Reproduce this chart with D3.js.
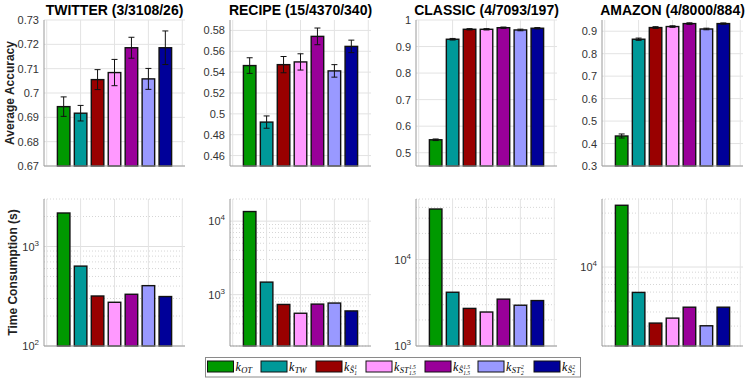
<!DOCTYPE html>
<html><head><meta charset="utf-8">
<script src="https://cdn.jsdelivr.net/npm/d3@7"></script>
<style>body{margin:0;background:#fff} svg{display:block}</style>
</head><body><svg id="c" width="748" height="381"></svg>
<script>
// ---------------- data ----------------
const methods = ["k_OT","k_TW","k_S1","k_ST1.5","k_S1.5","k_ST2","k_S2"];
const colors = ["#009900","#009999","#990000","#ff99ff","#990099","#9999ff","#000099"];
const datasets = ["TWITTER (3/3108/26)","RECIPE (15/4370/340)","CLASSIC (4/7093/197)","AMAZON (4/8000/884)"];

const accTwitter = [0.6944,0.6917,0.7055,0.7084,0.7186,0.7058,0.7186];
const errTwitter = [0.0040,0.0032,0.0041,0.0054,0.0043,0.0043,0.0069];
const accRecipe  = [0.5463,0.4921,0.5472,0.5498,0.5743,0.5412,0.5647];
const errRecipe  = [0.0075,0.0059,0.0078,0.0078,0.0080,0.0060,0.0060];
const accClassic = [0.5488,0.9275,0.9650,0.9650,0.9710,0.9625,0.9690];
const errClassic = [0.0030,0.0030,0.0025,0.0025,0.0025,0.0030,0.0025];
const accAmazon  = [0.4336,0.8644,0.9163,0.9208,0.9340,0.9100,0.9340];
const errAmazon  = [0.0090,0.0050,0.0040,0.0035,0.0035,0.0035,0.0030];

const timeTwitter = [2170,635,318,275,331,404,314];
const timeRecipe  = [13500,1480,735,558,743,768,600];
const timeClassic = [38300,4180,2720,2470,3480,2960,3350];
const timeAmazon  = [35200,5960,3190,3530,4410,3020,4410];

const accDomains = [[0.67,0.73],[0.45,0.59],[0.45,1.0],[0.3,0.95]];
const accTicks = [
  [0.67,0.68,0.69,0.70,0.71,0.72,0.73],
  [0.46,0.48,0.50,0.52,0.54,0.56,0.58],
  [0.5,0.6,0.7,0.8,0.9,1.0],
  [0.3,0.4,0.5,0.6,0.7,0.8,0.9]
];
const accTickLabels = [
  ["0.67","0.68","0.69","0.7","0.71","0.72","0.73"],
  ["0.46","0.48","0.5","0.52","0.54","0.56","0.58"],
  ["0.5","0.6","0.7","0.8","0.9","1"],
  ["0.3","0.4","0.5","0.6","0.7","0.8","0.9"]
];
const timeDomains = [[100,3000],[200,20000],[1000,50000],[2000,40000]];
const timeTickExps = [[2,3],[3,4],[3,4],[4]];

const accData = [accTwitter,accRecipe,accClassic,accAmazon];
const errData = [errTwitter,errRecipe,errClassic,errAmazon];
const timeData = [timeTwitter,timeRecipe,timeClassic,timeAmazon];

// ---------------- layout ----------------
const svg = d3.select("#c");
const lefts = [44,230,416,602];
const pw = 141;
const topY = [20,166], botY = [199,346];
const gridCol = "#e3e3e3", axisCol = "#9a9a9a", textCol = "#333";
const sans = "'Liberation Sans', Arial, Helvetica, sans-serif";
const serif = "'Liberation Serif', 'DejaVu Serif', 'Times New Roman', serif";

function panel(i, yScale, yTop, yBot, isLog) {
  const x = d3.scaleLinear().domain([-0.16, 8.16]).range([lefts[i], lefts[i]+pw]);
  const g = svg.append("g");
  // grid: horizontal
  if (isLog) {
    const [d0,d1] = yScale.domain();
    const minor = [];
    for (let e = Math.floor(Math.log10(d0)); e <= Math.ceil(Math.log10(d1)); e++) {
      for (let m = 1; m <= 9; m++) {
        const v = m*Math.pow(10,e);
        if (v >= d0*0.999 && v <= d1*1.001) minor.push({v, major: m===1});
      }
    }
    g.selectAll(".hg").data(minor).join("line")
      .attr("x1", lefts[i]).attr("x2", lefts[i]+pw)
      .attr("y1", d => yScale(d.v)).attr("y2", d => yScale(d.v))
      .attr("stroke", d => d.major ? "#e0e0e0" : "#d6d6d6")
      .attr("stroke-width", 1)
      .attr("stroke-dasharray", d => d.major ? null : "1,2");
  } else {
    g.selectAll(".hg").data(accTicks[i]).join("line")
      .attr("x1", lefts[i]).attr("x2", lefts[i]+pw)
      .attr("y1", d => yScale(d)).attr("y2", d => yScale(d))
      .attr("stroke", gridCol).attr("stroke-width", 1);
  }
  // grid: vertical
  g.selectAll(".vg").data([0,2,4,6,8]).join("line")
    .attr("x1", d => x(d)).attr("x2", d => x(d))
    .attr("y1", yTop).attr("y2", yBot)
    .attr("stroke", gridCol).attr("stroke-width", 1);
  return {g, x};
}

// top panels
for (let i = 0; i < 4; i++) {
  const y = d3.scaleLinear().domain(accDomains[i]).range([topY[1], topY[0]]);
  const {g, x} = panel(i, y, topY[0], topY[1], false);
  const bw = 0.74*(x(1)-x(0));
  const vals = accData[i], errs = errData[i];
  g.selectAll(".bar").data(vals).join("rect")
    .attr("x", (d,j) => x(j+1)-bw/2).attr("width", bw)
    .attr("y", d => y(d)).attr("height", d => y(accDomains[i][0]) - y(d))
    .attr("fill", (d,j) => colors[j]).attr("stroke", "#111").attr("stroke-width", 1.4);
  const eg = g.selectAll(".err").data(vals).join("g");
  eg.append("line")
    .attr("x1", (d,j) => x(j+1)).attr("x2", (d,j) => x(j+1))
    .attr("y1", (d,j) => y(d - errs[j])).attr("y2", (d,j) => y(d + errs[j]))
    .attr("stroke", "#111").attr("stroke-width", 1);
  [-1,1].forEach(s => {
    eg.append("line")
      .attr("x1", (d,j) => x(j+1)-3).attr("x2", (d,j) => x(j+1)+3)
      .attr("y1", (d,j) => y(d + s*errs[j])).attr("y2", (d,j) => y(d + s*errs[j]))
      .attr("stroke", "#111").attr("stroke-width", 1);
  });
  // axes
  const ax = g.append("g").attr("transform", `translate(${lefts[i]},0)`)
    .call(d3.axisLeft(y).tickValues(accTicks[i]).tickSize(0).tickPadding(5)
      .tickFormat((d,k) => accTickLabels[i][k]));
  ax.select(".domain").remove();
  ax.selectAll("text").attr("font-family", sans).attr("font-size", 11).attr("fill", textCol);
  g.append("line").attr("x1", lefts[i]).attr("x2", lefts[i]).attr("y1", topY[0]).attr("y2", topY[1])
    .attr("stroke", axisCol);
  g.append("line").attr("x1", lefts[i]).attr("x2", lefts[i]+pw).attr("y1", topY[1]).attr("y2", topY[1])
    .attr("stroke", axisCol);
  // title
  svg.append("text").attr("x", lefts[i]+pw/2).attr("y", 15).attr("text-anchor", "middle")
    .attr("font-family", sans).attr("font-weight", "bold").attr("font-size", 14).attr("fill", "#000")
    .text(datasets[i]);
}

// bottom panels
for (let i = 0; i < 4; i++) {
  const y = d3.scaleLog().domain(timeDomains[i]).range([botY[1], botY[0]]);
  const {g, x} = panel(i, y, botY[0], botY[1], true);
  const bw = 0.74*(x(1)-x(0));
  g.selectAll(".bar").data(timeData[i]).join("rect")
    .attr("x", (d,j) => x(j+1)-bw/2).attr("width", bw)
    .attr("y", d => y(d)).attr("height", d => y(timeDomains[i][0]) - y(d))
    .attr("fill", (d,j) => colors[j]).attr("stroke", "#111").attr("stroke-width", 1.4);
  const ax = g.append("g").attr("transform", `translate(${lefts[i]},0)`)
    .call(d3.axisLeft(y).tickValues(timeTickExps[i].map(e => Math.pow(10,e))).tickSize(0).tickPadding(5)
      .tickFormat(() => ""));
  ax.select(".domain").remove();
  ax.selectAll("text").each(function(d) {
    const t = d3.select(this).attr("font-family", sans).attr("fill", textCol).attr("font-size", 11);
    t.append("tspan").text("10");
    t.append("tspan").attr("font-size", 8).attr("dy", -5).text(Math.round(Math.log10(d)));
  });
  g.append("line").attr("x1", lefts[i]).attr("x2", lefts[i]).attr("y1", botY[0]).attr("y2", botY[1])
    .attr("stroke", axisCol);
  g.append("line").attr("x1", lefts[i]).attr("x2", lefts[i]+pw).attr("y1", botY[1]).attr("y2", botY[1])
    .attr("stroke", axisCol);
}

// y labels
svg.append("text").attr("transform", `translate(13.5,${(topY[0]+topY[1])/2}) rotate(-90)`)
  .attr("text-anchor", "middle").attr("font-family", sans).attr("font-weight", "bold")
  .attr("font-size", 12).attr("fill", "#222").text("Average Accuracy");
svg.append("text").attr("transform", `translate(16.5,${(botY[0]+botY[1])/2}) rotate(-90)`)
  .attr("text-anchor", "middle").attr("font-family", sans).attr("font-weight", "bold")
  .attr("font-size", 12).attr("fill", "#222").text("Time Consumption (s)");

// legend
const legendSpecs = [
  {sub:"OT"}, {sub:"TW"}, {sub:"\u015C", sp:"1", ss:"1"},
  {sub:"ST", sp:"1.5", ss:"1.5"}, {sub:"\u015C", sp:"1.5", ss:"1.5"},
  {sub:"ST", sp:"2", ss:"2"}, {sub:"\u015C", sp:"2", ss:"2"}
];
const legendX = [207.5,261,316,366,425,478,534];
const lg = svg.append("g");
lg.append("rect").attr("x", 205.5).attr("y", 357.5).attr("width", 375).attr("height", 19.5)
  .attr("fill", "#fff").attr("stroke", "#8a8a8a").attr("stroke-width", 1);
function mathText(x, y, spec) {
  const mk = (tx, ty, fs, s) => {
    const t = lg.append("text").attr("x", tx).attr("y", ty).attr("font-family", serif)
      .attr("font-style", "italic").attr("font-size", fs).attr("fill", "#000").text(s);
    return t.node().getComputedTextLength();
  };
  let cx = x + mk(x, y, 12, "k") + 0.3;
  cx += mk(cx, y + 2, 8.5, spec.sub) + 0.3;
  if (spec.ss) {
    mk(cx, y + 4.5, 5.5, spec.ss);
    mk(cx, y - 2, 5.5, spec.sp);
  }
}
methods.forEach((m, j) => {
  lg.append("rect").attr("x", legendX[j]).attr("y", 361).attr("width", 26).attr("height", 11)
    .attr("fill", colors[j]).attr("stroke", "#111").attr("stroke-width", 1);
  mathText(legendX[j] + 28, 370.5, legendSpecs[j]);
});
</script>
</body></html>
